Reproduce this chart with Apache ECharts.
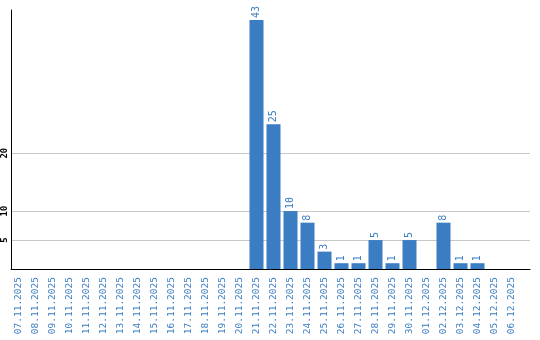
<!DOCTYPE html>
<html><head><meta charset="utf-8">
<script src="https://cdn.jsdelivr.net/npm/echarts@6/dist/echarts.min.js"></script>
<style>html,body{margin:0;padding:0;background:#fff}#c{width:540px;height:340px}</style>
</head><body><div id="c"></div>
<script>
const categories = ['07.11.2025','08.11.2025','09.11.2025','10.11.2025','11.11.2025','12.11.2025','13.11.2025','14.11.2025','15.11.2025','16.11.2025','17.11.2025','18.11.2025','19.11.2025','20.11.2025','21.11.2025','22.11.2025','23.11.2025','24.11.2025','25.11.2025','26.11.2025','27.11.2025','28.11.2025','29.11.2025','30.11.2025','01.12.2025','02.12.2025','03.12.2025','04.12.2025','05.12.2025','06.12.2025'];
const values = [0,0,0,0,0,0,0,0,0,0,0,0,0,0,43,25,10,8,3,1,1,5,1,5,0,8,1,1,0,0];
const yTicks = [5,10,20];
const yMax = 44.72;

const blue = '#3b7dc3';
const chart = echarts.init(document.getElementById('c'), null, {renderer:'canvas'});
chart.setOption({
  animation: false,
  grid: [
    {left:10, right:10, top:10, bottom:71, containLabel:false},
    {left:10, width:510, top:10, bottom:71, containLabel:false}
  ],
  xAxis: [
    {type:'value', gridIndex:0, min:0, max:1, axisLine:{show:true, onZero:false, lineStyle:{color:'#000', width:1}},
     axisTick:{show:false}, axisLabel:{show:false}, splitLine:{show:false}, z:10},
    {type:'category', gridIndex:1, data:categories, axisLine:{show:false}, axisTick:{show:false},
     axisLabel:{interval:0, rotate:90, color:blue, fontFamily:'DejaVu Sans Mono', fontSize:9.5, margin:8}}
  ],
  yAxis: [
    {type:'value', gridIndex:0, min:0, max:yMax, interval:5,
     axisLine:{show:true, lineStyle:{color:'#000', width:1}}, axisTick:{show:false}, splitLine:{show:false},
     axisLabel:{rotate:90, color:'#000', fontFamily:'DejaVu Sans Mono', fontSize:9, fontWeight:'bold', margin:2,
       showMaxLabel:false,
       formatter: v => yTicks.includes(v) ? String(v) : ''}, z:10},
    {type:'value', gridIndex:1, min:0, max:yMax, show:false}
  ],
  series: [
    {type:'line', xAxisIndex:0, yAxisIndex:0, data:[], silent:true, z:0,
     markLine:{symbol:'none', silent:true, label:{show:false}, z:0,
       lineStyle:{color:'#c8c8c8', width:1, type:'solid'},
       data: yTicks.map(v => ({yAxis:v}))}},
    {type:'bar', xAxisIndex:1, yAxisIndex:1, data:values, barWidth:14, z:5,
     itemStyle:{color:blue},
     label:{show:true, position:'top', rotate:90, align:'left', verticalAlign:'middle', distance:2,
       color:blue, fontFamily:'DejaVu Sans Mono', fontSize:10,
       formatter: p => p.value ? String(p.value) : ''}}
  ]
});
</script></body></html>
